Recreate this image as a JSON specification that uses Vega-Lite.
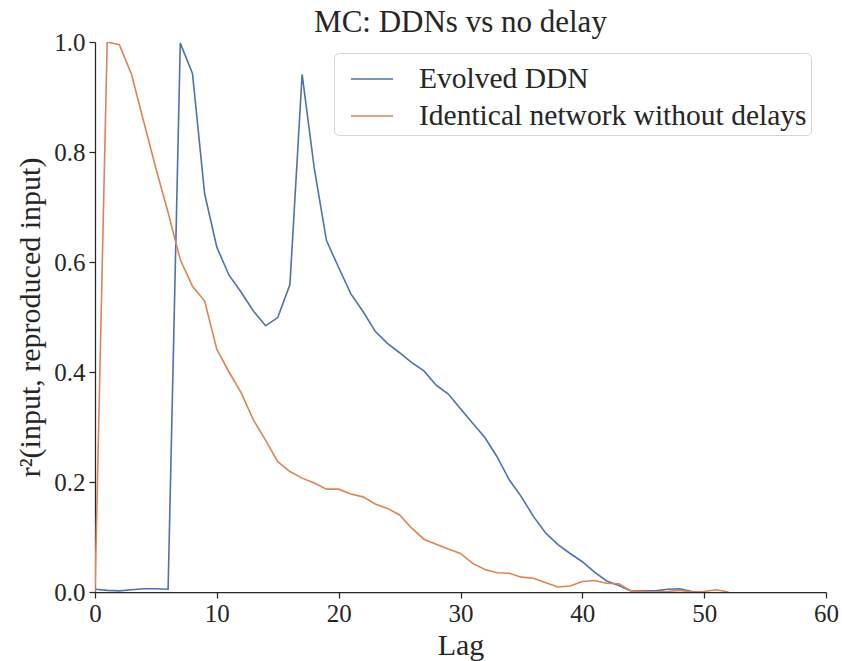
{
  "$schema": "https://vega.github.io/schema/vega-lite/v6.json",
  "autosize": {"type": "none"},
  "padding": {"left": 95, "top": 42, "right": 16, "bottom": 69},
  "width": 731,
  "height": 550,
  "background": "white",
  "title": {"text": "MC: DDNs vs no delay", "font": "Liberation Serif", "fontSize": 31, "fontWeight": "normal", "color": "#262626", "offset": -9, "anchor": "middle"},
  "datasets": {
    "ddn": [
      {"lag": 0, "r2": 0.005}, {"lag": 1, "r2": 0.003}, {"lag": 2, "r2": 0.002}, {"lag": 3, "r2": 0.004},
      {"lag": 4, "r2": 0.006}, {"lag": 5, "r2": 0.006}, {"lag": 6, "r2": 0.005}, {"lag": 7, "r2": 0.998},
      {"lag": 8, "r2": 0.943}, {"lag": 9, "r2": 0.724}, {"lag": 10, "r2": 0.627}, {"lag": 11, "r2": 0.576},
      {"lag": 12, "r2": 0.545}, {"lag": 13, "r2": 0.511}, {"lag": 14, "r2": 0.484}, {"lag": 15, "r2": 0.499},
      {"lag": 16, "r2": 0.559}, {"lag": 17, "r2": 0.941}, {"lag": 18, "r2": 0.77}, {"lag": 19, "r2": 0.639},
      {"lag": 20, "r2": 0.59}, {"lag": 21, "r2": 0.542}, {"lag": 22, "r2": 0.51}, {"lag": 23, "r2": 0.474},
      {"lag": 24, "r2": 0.452}, {"lag": 25, "r2": 0.435}, {"lag": 26, "r2": 0.417}, {"lag": 27, "r2": 0.402},
      {"lag": 28, "r2": 0.376}, {"lag": 29, "r2": 0.36}, {"lag": 30, "r2": 0.333}, {"lag": 31, "r2": 0.307},
      {"lag": 32, "r2": 0.281}, {"lag": 33, "r2": 0.246}, {"lag": 34, "r2": 0.204}, {"lag": 35, "r2": 0.173},
      {"lag": 36, "r2": 0.137}, {"lag": 37, "r2": 0.107}, {"lag": 38, "r2": 0.086}, {"lag": 39, "r2": 0.07},
      {"lag": 40, "r2": 0.055}, {"lag": 41, "r2": 0.036}, {"lag": 42, "r2": 0.02}, {"lag": 43, "r2": 0.012},
      {"lag": 44, "r2": 0.002}, {"lag": 45, "r2": 0.002}, {"lag": 46, "r2": 0.002}, {"lag": 47, "r2": 0.005},
      {"lag": 48, "r2": 0.006}, {"lag": 49, "r2": 0.001}, {"lag": 50, "r2": 0.0}
    ],
    "nodelay": [
      {"lag": 0, "r2": 0.0}, {"lag": 1, "r2": 1.0}, {"lag": 2, "r2": 0.995}, {"lag": 3, "r2": 0.941},
      {"lag": 4, "r2": 0.855}, {"lag": 5, "r2": 0.77}, {"lag": 6, "r2": 0.69}, {"lag": 7, "r2": 0.604},
      {"lag": 8, "r2": 0.556}, {"lag": 9, "r2": 0.529}, {"lag": 10, "r2": 0.441}, {"lag": 11, "r2": 0.4},
      {"lag": 12, "r2": 0.362}, {"lag": 13, "r2": 0.313}, {"lag": 14, "r2": 0.276}, {"lag": 15, "r2": 0.237},
      {"lag": 16, "r2": 0.219}, {"lag": 17, "r2": 0.207}, {"lag": 18, "r2": 0.198}, {"lag": 19, "r2": 0.187},
      {"lag": 20, "r2": 0.187}, {"lag": 21, "r2": 0.178}, {"lag": 22, "r2": 0.173}, {"lag": 23, "r2": 0.16},
      {"lag": 24, "r2": 0.152}, {"lag": 25, "r2": 0.14}, {"lag": 26, "r2": 0.116}, {"lag": 27, "r2": 0.096},
      {"lag": 28, "r2": 0.087}, {"lag": 29, "r2": 0.078}, {"lag": 30, "r2": 0.07}, {"lag": 31, "r2": 0.052},
      {"lag": 32, "r2": 0.041}, {"lag": 33, "r2": 0.035}, {"lag": 34, "r2": 0.034}, {"lag": 35, "r2": 0.027},
      {"lag": 36, "r2": 0.025}, {"lag": 37, "r2": 0.017}, {"lag": 38, "r2": 0.009}, {"lag": 39, "r2": 0.011},
      {"lag": 40, "r2": 0.019}, {"lag": 41, "r2": 0.021}, {"lag": 42, "r2": 0.016}, {"lag": 43, "r2": 0.015},
      {"lag": 44, "r2": 0.002}, {"lag": 45, "r2": 0.001}, {"lag": 46, "r2": 0.0}, {"lag": 47, "r2": 0.001},
      {"lag": 48, "r2": 0.003}, {"lag": 49, "r2": 0.0}, {"lag": 50, "r2": 0.001}, {"lag": 51, "r2": 0.004},
      {"lag": 52, "r2": 0.0}
    ]
  },
  "layer": [
    {
      "data": {"name": "ddn"},
      "transform": [{"calculate": "'Evolved DDN'", "as": "series"}],
      "mark": {"type": "line", "strokeWidth": 1.6, "clip": true},
      "encoding": {
        "x": {"field": "lag", "type": "quantitative"},
        "y": {"field": "r2", "type": "quantitative"},
        "color": {"field": "series", "type": "nominal"}
      }
    },
    {
      "data": {"name": "nodelay"},
      "transform": [{"calculate": "'Identical network without delays'", "as": "series"}],
      "mark": {"type": "line", "strokeWidth": 1.6, "clip": true},
      "encoding": {
        "x": {"field": "lag", "type": "quantitative"},
        "y": {"field": "r2", "type": "quantitative"},
        "color": {"field": "series", "type": "nominal"}
      }
    }
  ],
  "encoding": {
    "x": {"field": "lag", "type": "quantitative", "title": "Lag",
      "scale": {"domain": [0, 60], "nice": false, "zero": false},
      "axis": {"values": [0, 10, 20, 30, 40, 50, 60], "grid": false, "tickSize": 6, "labelPadding": 3, "titlePadding": 4, "labelFlush": false}},
    "y": {"field": "r2", "type": "quantitative", "title": "r²(input, reproduced input)",
      "scale": {"domain": [0, 1], "nice": false},
      "axis": {"values": [0, 0.2, 0.4, 0.6, 0.8, 1.0], "format": ".1f", "grid": false, "tickSize": 6, "labelPadding": 4, "titlePadding": 8, "labelFlush": false}},
    "color": {"field": "series", "type": "nominal",
      "scale": {"domain": ["Evolved DDN", "Identical network without delays"], "range": ["#4c72b0", "#dd8452"]},
      "legend": {"title": null, "orient": "none", "legendX": 239, "legendY": 11, "symbolType": "stroke", "symbolSize": 1764, "symbolStrokeWidth": 1.6, "symbolOffset": 12,
        "labelFont": "Liberation Serif", "labelFontSize": 29.5, "labelColor": "#262626", "labelOffset": 25, "rowPadding": 0,
        "padding": 4, "strokeColor": "#d6d6d6", "fillColor": "white", "cornerRadius": 5, "labelLimit": 600}}
  },
  "config": {
    "view": {"stroke": null},
    "axis": {"labelFont": "Liberation Serif", "labelFontSize": 25, "labelColor": "#262626", "titleFont": "Liberation Serif", "titleFontSize": 30, "titleFontWeight": "normal", "titleColor": "#262626", "domainColor": "#262626", "tickColor": "#262626", "domainWidth": 1.25, "tickWidth": 1.25}
  }
}
